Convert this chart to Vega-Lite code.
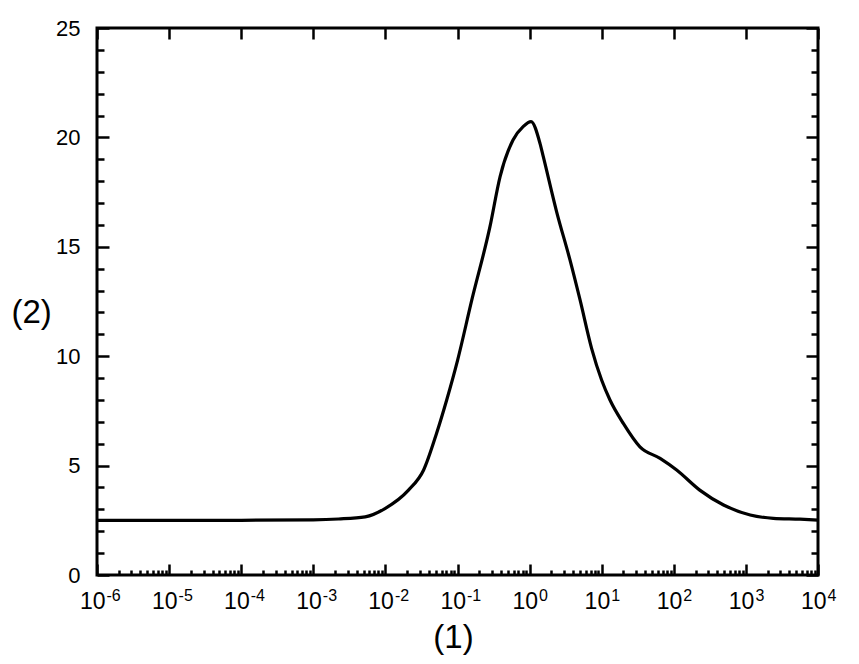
{
  "$schema": "https://vega.github.io/schema/vega-lite/v6.json",
  "width": 721,
  "height": 547,
  "autosize": "none",
  "padding": {"left": 97, "top": 28, "right": 41, "bottom": 89},
  "background": "white",
  "config": {
    "view": {"stroke": "black", "strokeWidth": 3},
    "font": "Liberation Sans",
    "axis": {
      "domain": false,
      "grid": false,
      "tickColor": "black",
      "tickWidth": 2.5,
      "labelColor": "black",
      "labelFont": "Liberation Sans",
      "labelOverlap": false,
      "labelFlush": false,
      "titleColor": "black",
      "titleFont": "Liberation Sans",
      "titleFontWeight": "normal"
    }
  },
  "data": {
    "values": [
      {"x": 0.000001, "y": 2.5},
      {"x": 0.00001, "y": 2.5},
      {"x": 0.0001, "y": 2.5},
      {"x": 0.001, "y": 2.52},
      {"x": 0.00224, "y": 2.56},
      {"x": 0.00525, "y": 2.66},
      {"x": 0.01, "y": 3.05},
      {"x": 0.0209, "y": 3.88},
      {"x": 0.0339, "y": 4.8},
      {"x": 0.0513, "y": 6.48},
      {"x": 0.0708, "y": 8.0},
      {"x": 0.1, "y": 9.8},
      {"x": 0.158, "y": 12.57},
      {"x": 0.282, "y": 15.92},
      {"x": 0.389, "y": 18.2},
      {"x": 0.589, "y": 19.88},
      {"x": 0.813, "y": 20.49},
      {"x": 1.047, "y": 20.72},
      {"x": 1.393, "y": 19.73},
      {"x": 1.549, "y": 19.12},
      {"x": 2.371, "y": 16.6},
      {"x": 3.63, "y": 14.4},
      {"x": 5.01, "y": 12.57},
      {"x": 7.24, "y": 10.36},
      {"x": 10, "y": 8.9},
      {"x": 13.03, "y": 8.0},
      {"x": 19.95, "y": 6.93},
      {"x": 33.9, "y": 5.86},
      {"x": 64.6, "y": 5.33},
      {"x": 109.6, "y": 4.8},
      {"x": 229, "y": 3.88},
      {"x": 490, "y": 3.2},
      {"x": 1148, "y": 2.74},
      {"x": 2399, "y": 2.59},
      {"x": 5623, "y": 2.55},
      {"x": 10000, "y": 2.51}
    ]
  },
  "resolve": {"axis": {"x": "independent", "y": "independent"}},
  "layer": [
    {
      "mark": {"type": "line", "color": "black", "strokeWidth": 3.2, "interpolate": "monotone", "clip": true},
      "encoding": {
        "x": {
          "field": "x", "type": "quantitative",
          "scale": {"type": "log", "domain": [0.000001, 10000], "nice": false},
          "axis": {
            "orient": "bottom",
            "values": [0.000001, 0.00001, 0.0001, 0.001, 0.01, 0.1, 1, 10, 100, 1000, 10000],
            "ticks": false,
            "labelExpr": "'10'",
            "labelFontSize": 23,
            "labelAlign": "right",
            "labelBaseline": "alphabetic",
            "labelOffset": 8,
            "labelPadding": 33,
            "title": "(1)",
            "titleFontSize": 33,
            "titleX": 356,
            "titleY": 62,
            "titleAlign": "center",
            "titleBaseline": "middle"
          }
        },
        "y": {
          "field": "y", "type": "quantitative",
          "scale": {"domain": [0, 25], "nice": false, "zero": false},
          "axis": {
            "orient": "left",
            "values": [0, 5, 10, 15, 20, 25],
            "ticks": false,
            "labelFontSize": 22,
            "labelPadding": 17,
            "title": "(2)",
            "titleFontSize": 33,
            "titleAngle": 0,
            "titleX": -86,
            "titleY": 284,
            "titleAlign": "left",
            "titleBaseline": "middle"
          }
        }
      }
    },
    {
      "mark": {"type": "line", "strokeOpacity": 0},
      "encoding": {
        "x": {
          "field": "x", "type": "quantitative",
          "axis": {
            "orient": "bottom",
            "values": [0.000001, 0.00001, 0.0001, 0.001, 0.01, 0.1, 1, 10, 100, 1000, 10000],
            "ticks": false,
            "labelExpr": "'' + round(log(datum.value) / LN10)",
            "labelFontSize": 16,
            "labelAlign": "left",
            "labelBaseline": "alphabetic",
            "labelOffset": 9,
            "labelPadding": 25,
            "title": null
          }
        },
        "y": {
          "field": "y", "type": "quantitative",
          "axis": {
            "orient": "left",
            "values": [0, 5, 10, 15, 20, 25],
            "labels": false,
            "tickSize": -12,
            "title": null
          }
        }
      }
    },
    {
      "mark": {"type": "line", "strokeOpacity": 0},
      "encoding": {
        "x": {
          "field": "x", "type": "quantitative",
          "axis": {
            "orient": "bottom",
            "values": [0.000001, 0.00001, 0.0001, 0.001, 0.01, 0.1, 1, 10, 100, 1000, 10000],
            "labels": false,
            "tickSize": -11,
            "title": null
          }
        },
        "y": {
          "field": "y", "type": "quantitative",
          "axis": {
            "orient": "left",
            "values": [1, 2, 3, 4, 6, 7, 8, 9, 11, 12, 13, 14, 16, 17, 18, 19, 21, 22, 23, 24],
            "labels": false,
            "tickSize": -7,
            "title": null
          }
        }
      }
    },
    {
      "mark": {"type": "line", "strokeOpacity": 0},
      "encoding": {
        "x": {
          "field": "x", "type": "quantitative",
          "axis": {
            "orient": "bottom",
            "values": [0.000002, 0.000003, 0.000004, 0.000005, 0.000006, 0.000007, 0.000008, 0.000009,
                       0.00002, 0.00003, 0.00004, 0.00005, 0.00006, 0.00007, 0.00008, 0.00009,
                       0.0002, 0.0003, 0.0004, 0.0005, 0.0006, 0.0007, 0.0008, 0.0009,
                       0.002, 0.003, 0.004, 0.005, 0.006, 0.007, 0.008, 0.009,
                       0.02, 0.03, 0.04, 0.05, 0.06, 0.07, 0.08, 0.09,
                       0.2, 0.3, 0.4, 0.5, 0.6, 0.7, 0.8, 0.9,
                       2, 3, 4, 5, 6, 7, 8, 9,
                       20, 30, 40, 50, 60, 70, 80, 90,
                       200, 300, 400, 500, 600, 700, 800, 900,
                       2000, 3000, 4000, 5000, 6000, 7000, 8000, 9000],
            "labels": false,
            "tickSize": -5,
            "title": null
          }
        },
        "y": {
          "field": "y", "type": "quantitative",
          "axis": {
            "orient": "right",
            "values": [0, 5, 10, 15, 20, 25],
            "labels": false,
            "tickSize": -12,
            "title": null
          }
        }
      }
    },
    {
      "mark": {"type": "line", "strokeOpacity": 0},
      "encoding": {
        "x": {
          "field": "x", "type": "quantitative",
          "axis": {
            "orient": "top",
            "values": [0.000001, 0.00001, 0.0001, 0.001, 0.01, 0.1, 1, 10, 100, 1000, 10000],
            "labels": false,
            "tickSize": -11,
            "title": null
          }
        },
        "y": {
          "field": "y", "type": "quantitative",
          "axis": {
            "orient": "right",
            "values": [1, 2, 3, 4, 6, 7, 8, 9, 11, 12, 13, 14, 16, 17, 18, 19, 21, 22, 23, 24],
            "labels": false,
            "tickSize": -7,
            "title": null
          }
        }
      }
    }
  ]
}
